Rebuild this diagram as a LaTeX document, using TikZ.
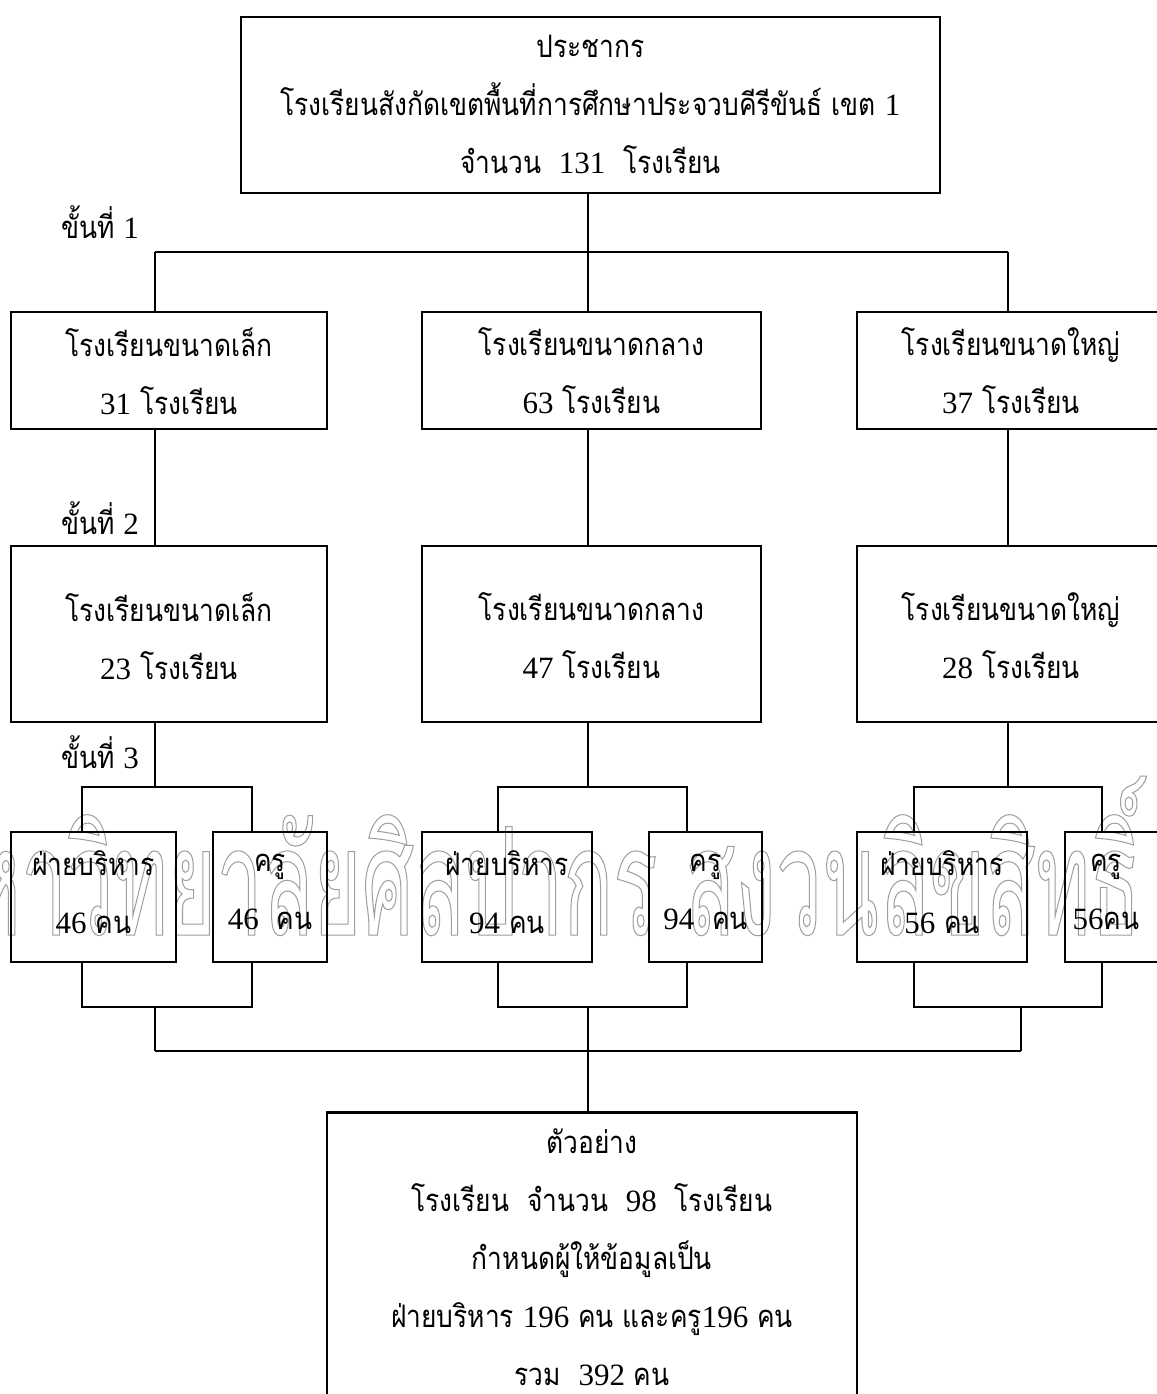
\documentclass[tikz,border=0pt]{standalone}
\usepackage{fontspec}
\setmainfont{Liberation Serif}
\newfontfamily\tf[Script=Thai,FakeStretch=0.85]{Loma}
\newfontfamily\wmf[Script=Thai,FakeStretch=0.55]{Loma}
\newcommand{\nm}[1]{{\rmfamily #1}}
\tikzset{
  box/.style={draw, line width=2.7pt, inner sep=0pt},
  lbl/.style={font=\tf\fontsize{31}{58}\selectfont, align=center, inner sep=0pt},
  wire/.style={line width=2.7pt},
}
\begin{document}
\begin{tikzpicture}[x=1pt,y=-1pt]
\useasboundingbox (0,0) rectangle (1156,1394);
\fill[white] (0,0) rectangle (1156,1394);
% watermark
\node[anchor=base west, inner sep=0pt, text=black!38] (wm) at (-88,935)
  {\wmf\fontsize{150}{150}\selectfont\special{pdf:literal direct 1 Tr 1 w}มหาวิทยาลัยศิลปากร สงวนลิขสิทธิ์\special{pdf:literal direct 0 Tr}};
% boxes
\node[box, minimum width=699pt, minimum height=176pt] (top) at (590.5,105) {};
\node[box, minimum width=316pt, minimum height=117pt] (L1a) at (169,370.5) {};
\node[box, minimum width=339pt, minimum height=117pt] (L1b) at (591.5,370.5) {};
\node[box, minimum width=308pt, minimum height=117pt] (L1c) at (1011,370.5) {};
\node[box, minimum width=316pt, minimum height=176pt] (L2a) at (169,634) {};
\node[box, minimum width=339pt, minimum height=176pt] (L2b) at (591.5,634) {};
\node[box, minimum width=308pt, minimum height=176pt] (L2c) at (1011,634) {};
\node[box, minimum width=165pt, minimum height=130pt] (L3a1) at (93.5,897) {};
\node[box, minimum width=114pt, minimum height=130pt] (L3a2) at (270,897) {};
\node[box, minimum width=170pt, minimum height=130pt] (L3b1) at (507,897) {};
\node[box, minimum width=113pt, minimum height=130pt] (L3b2) at (705.5,897) {};
\node[box, minimum width=170pt, minimum height=130pt] (L3c1) at (942,897) {};
\node[box, minimum width=105pt, minimum height=130pt] (L3c2) at (1117.5,897) {};
\node[box, minimum width=530pt, minimum height=330pt, anchor=north] (bot) at (592,1111) {};
% texts
\node[lbl] (topT) at (590.5,104) {ประชากร\\โรงเรียนสังกัดเขตพื้นที่การศึกษาประจวบคีรีขันธ์ เขต \nm{1}\\จำนวน\ \ \nm{131}\ \ โรงเรียน};
\node[lbl] (s1) at (100,222) {ขั้นที่ \nm{1}};
\node[lbl] (s2) at (100,518) {ขั้นที่ \nm{2}};
\node[lbl] (s3) at (100,752) {ขั้นที่ \nm{3}};
\node[lbl] (L1aT) at (169,371) {โรงเรียนขนาดเล็ก\\\nm{31} โรงเรียน};
\node[lbl] (L1bT) at (591.5,371) {โรงเรียนขนาดกลาง\\\nm{63} โรงเรียน};
\node[lbl] (L1cT) at (1011,371) {โรงเรียนขนาดใหญ่\\\nm{37} โรงเรียน};
\node[lbl] (L2aT) at (169,636) {โรงเรียนขนาดเล็ก\\\nm{23} โรงเรียน};
\node[lbl] (L2bT) at (591.5,636) {โรงเรียนขนาดกลาง\\\nm{47} โรงเรียน};
\node[lbl] (L2cT) at (1011,636) {โรงเรียนขนาดใหญ่\\\nm{28} โรงเรียน};
\node[lbl] (L3a1T) at (93.5,892) {ฝ่ายบริหาร\\\nm{46} คน};
\node[lbl] (L3a2T) at (270,892) {ครู\\\nm{46}\ \ คน};
\node[lbl] (L3b1T) at (507,892) {ฝ่ายบริหาร\\\nm{94} คน};
\node[lbl] (L3b2T) at (705.5,892) {ครู\\\nm{94}\ \ คน};
\node[lbl] (L3c1T) at (942,892) {ฝ่ายบริหาร\\\nm{56} คน};
\node[lbl] (L3c2T) at (1106,892) {ครู\\\nm{56}คน};
\node[lbl] (botT) at (592,1257.5) {ตัวอย่าง\\โรงเรียน\ \ จำนวน\ \ \nm{98}\ \ โรงเรียน\\กำหนดผู้ให้ข้อมูลเป็น\\ฝ่ายบริหาร \nm{196} คน และครู\nm{196} คน\\รวม\ \ \nm{392} คน};
% coordinates
\coordinate (c1) at (155,252);
\coordinate (c2) at (588,252);
\coordinate (c3) at (1008,252);
\coordinate (fa) at (155,787);
\coordinate (fal) at (82,787);
\coordinate (far) at (252,787);
\coordinate (fb) at (588,787);
\coordinate (fbl) at (498,787);
\coordinate (fbr) at (687,787);
\coordinate (fc) at (1008,787);
\coordinate (fcl) at (914,787);
\coordinate (fcr) at (1102,787);
\coordinate (ja) at (155,1007);
\coordinate (jal) at (82,1007);
\coordinate (jar) at (252,1007);
\coordinate (jb) at (588,1007);
\coordinate (jbl) at (498,1007);
\coordinate (jbr) at (687,1007);
\coordinate (jc) at (1021,1007);
\coordinate (jcl) at (914,1007);
\coordinate (jcr) at (1102,1007);
\coordinate (ma) at (155,1051);
\coordinate (mc) at (1021,1051);
% connectors
\draw[wire] (top.south -| c2) -- (c2);
\draw[wire] (c1) -- (c3);
\draw[wire] (c1) -- (L1a.north -| c1);
\draw[wire] (c2) -- (L1b.north -| c2);
\draw[wire] (c3) -- (L1c.north -| c3);
\draw[wire] (L1a.south -| c1) -- (L2a.north -| c1);
\draw[wire] (L1b.south -| c2) -- (L2b.north -| c2);
\draw[wire] (L1c.south -| c3) -- (L2c.north -| c3);
\draw[wire] (L2a.south -| fa) -- (fa);
\draw[wire] (L2b.south -| fb) -- (fb);
\draw[wire] (L2c.south -| fc) -- (fc);
\draw[wire] (L3a1.north -| fal) -- (fal) -- (far) -- (L3a2.north -| far);
\draw[wire] (L3b1.north -| fbl) -- (fbl) -- (fbr) -- (L3b2.north -| fbr);
\draw[wire] (L3c1.north -| fcl) -- (fcl) -- (fcr) -- (L3c2.north -| fcr);
\draw[wire] (L3a1.south -| jal) -- (jal) -- (jar) -- (L3a2.south -| jar);
\draw[wire] (L3b1.south -| jbl) -- (jbl) -- (jbr) -- (L3b2.south -| jbr);
\draw[wire] (L3c1.south -| jcl) -- (jcl) -- (jcr) -- (L3c2.south -| jcr);
\draw[wire] (ja) -- (ma);
\draw[wire] (jc) -- (mc);
\draw[wire] (ma) -- (mc);
\draw[wire] (jb) -- (bot.north -| jb);
\end{tikzpicture}
\end{document}
